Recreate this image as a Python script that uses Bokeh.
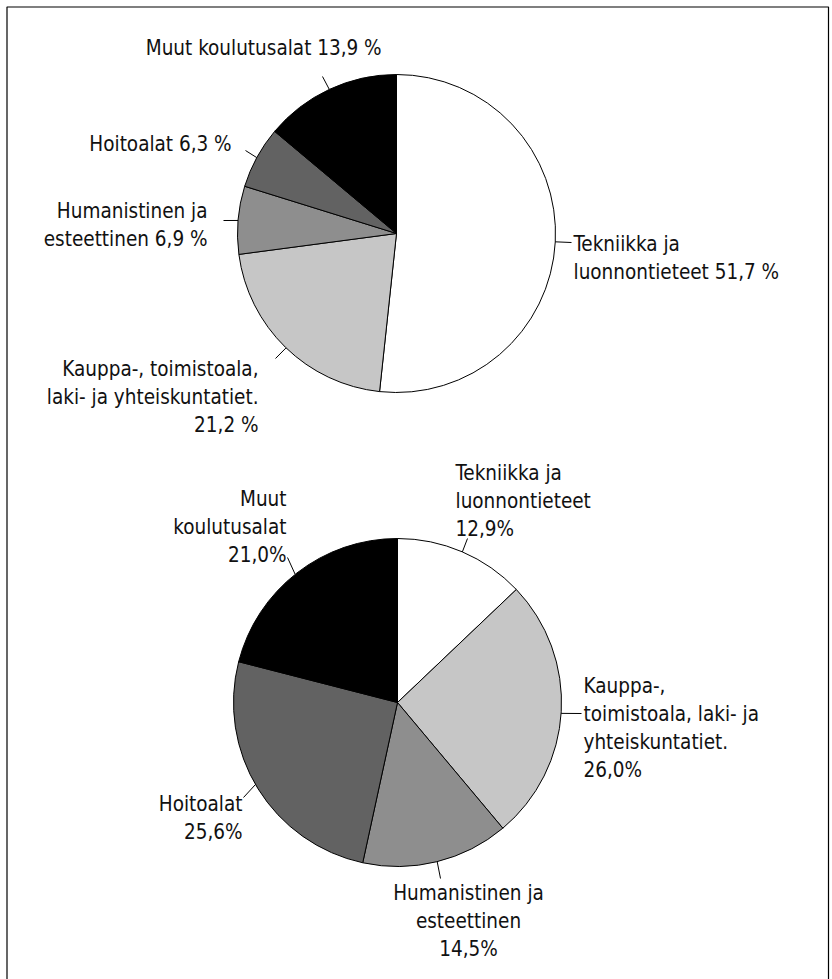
import math
from bokeh.plotting import figure
from bokeh.models import Range1d, ColumnDataSource
from bokeh.core.properties import value
from bokeh.embed import file_html
from bokeh.resources import INLINE

# ---------------- data ----------------
categories = [
    "Tekniikka ja luonnontieteet",
    "Kauppa-, toimistoala, laki- ja yhteiskuntatiet.",
    "Humanistinen ja esteettinen",
    "Hoitoalat",
    "Muut koulutusalat",
]
top_values = [51.7, 21.2, 6.9, 6.3, 13.9]
bottom_values = [12.9, 26.0, 14.5, 25.6, 21.0]

# label text lines (the value part is formatted from the data)
top_label_lines = [
    ["Tekniikka ja", "luonnontieteet  {v}"],
    ["Kauppa-, toimistoala,", "laki- ja yhteiskuntatiet.", "{v}"],
    ["Humanistinen ja", "esteettinen {v}"],
    ["Hoitoalat  {v}"],
    ["Muut koulutusalat  {v}"],
]
bottom_label_lines = [
    ["Tekniikka ja", "luonnontieteet", "{v}"],
    ["Kauppa-,", "toimistoala, laki- ja", "yhteiskuntatiet.", "{v}"],
    ["Humanistinen ja", "esteettinen", "{v}"],
    ["Hoitoalat", "{v}"],
    ["Muut", "koulutusalat", "{v}"],
]
slice_colors = ["#ffffff", "#c6c6c6", "#8e8e8e", "#626262", "#000000"]

# ---------------- layout (page pixels) ----------------
PAGE_W, PAGE_H = 832, 979
FONT = "DejaVu Sans Condensed"
FONT_SIZE = "20.5px"
LINE_STEP = 28

top_pie = dict(cx=396, cy=233, r=159, pct_fmt="{:.1f} %")
bottom_pie = dict(cx=397, cy=702, r=164, pct_fmt="{:.1f}%")

# per category: leader angle on rim (deg clockwise from 12 o'clock), leader end, text anchor, align
top_layout = [
    dict(ang=93.0, end=(571, 242), tx=573, ty=243, align="left"),
    dict(ang=224.0, end=(275, 358), tx=258, ty=368, align="right"),
    dict(ang=274.7, end=(223, 220), tx=207, ty=210, align="right"),
    dict(ang=298.5, end=(245, 150), tx=237, ty=143, align="right"),
    dict(ang=335.0, end=(322, 76), tx=387, ty=47, align="right"),
]
bottom_layout = [
    dict(ang=23.3, end=(467, 538), tx=455, ty=472, align="left"),
    dict(ang=93.8, end=(581, 713), tx=583, ty=685, align="left"),
    dict(ang=166.0, end=(440, 878), tx=468, ty=892, align="center"),
    dict(ang=240.0, end=(243, 797), tx=242, ty=803, align="right"),
    dict(ang=321.4, end=(287, 557), tx=286, ty=498, align="right"),
]


def Y(py):
    return PAGE_H - py


p = figure(width=PAGE_W, height=PAGE_H, output_backend="svg", toolbar_location=None,
           x_range=Range1d(0, PAGE_W), y_range=Range1d(0, PAGE_H),
           min_border=0)
p.axis.visible = False
p.grid.visible = False
p.outline_line_color = None
p.background_fill_color = "#ffffff"
p.border_fill_color = "#ffffff"

# frame
p.multi_line(xs=[[6.5, 6.5, 828, 828]], ys=[[0, Y(6.5), Y(6.5), 0]],
             line_color="#000000", line_width=1.2)


def draw_pie(pie, values, label_lines, layout):
    total = sum(values)
    cum = 0.0
    starts, ends = [], []
    for v in values:
        a0 = cum / total * 2 * math.pi
        cum += v
        a1 = cum / total * 2 * math.pi
        # clockwise from top -> bokeh counterclockwise from +x
        starts.append(math.pi / 2 - a1)
        ends.append(math.pi / 2 - a0)
    src = ColumnDataSource(dict(x=[pie["cx"]] * len(values), y=[Y(pie["cy"])] * len(values),
                                start=starts, end=ends, color=slice_colors,
                                cat=categories, val=values))
    p.wedge(x="x", y="y", radius=pie["r"], start_angle="start", end_angle="end",
            fill_color="color", line_color="#000000", line_width=1.0, source=src)

    # leaders
    xs0, ys0, xs1, ys1 = [], [], [], []
    for lay in layout:
        a = math.radians(lay["ang"])
        ex = pie["cx"] + pie["r"] * math.sin(a)
        ey = pie["cy"] - pie["r"] * math.cos(a)
        xs0.append(ex); ys0.append(Y(ey))
        xs1.append(lay["end"][0]); ys1.append(Y(lay["end"][1]))
    p.segment(x0=xs0, y0=ys0, x1=xs1, y1=ys1, line_color="#000000", line_width=1)

    # labels
    groups = {}
    for v, lines, lay in zip(values, label_lines, layout):
        vtxt = pie["pct_fmt"].format(v).replace(".", ",")
        for i, line in enumerate(lines):
            g = groups.setdefault(lay["align"], dict(x=[], y=[], t=[]))
            g["x"].append(lay["tx"])
            g["y"].append(Y(lay["ty"] + i * LINE_STEP))
            g["t"].append(line.format(v=vtxt))
    for align, g in groups.items():
        p.text(x=g["x"], y=g["y"], text=g["t"], text_align=align, text_baseline="middle",
               text_font=value(FONT), text_font_size=FONT_SIZE, text_color="#111111")


draw_pie(top_pie, top_values, top_label_lines, top_layout)
draw_pie(bottom_pie, bottom_values, bottom_label_lines, bottom_layout)

open("out.html", "w").write(file_html(p, INLINE))
